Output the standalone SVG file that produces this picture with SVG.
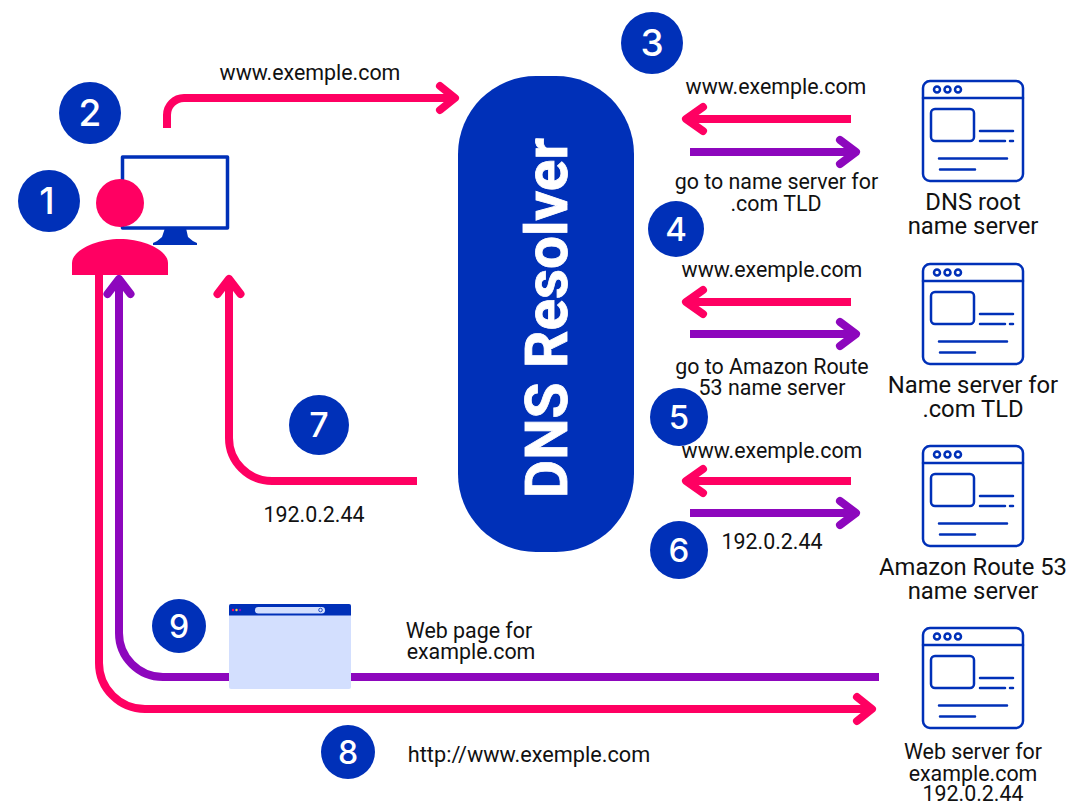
<svg xmlns="http://www.w3.org/2000/svg" xmlns:xlink="http://www.w3.org/1999/xlink" width="1071" height="803" viewBox="0 0 1071 803">
<style>
text{font-family:Roboto,"Liberation Sans",sans-serif;fill:#111;font-size:21.400px;text-anchor:middle}
.lbl2{font-size:23.800px}
.num{font-family:Inter,Roboto,sans-serif;fill:#fff;font-size:37px;font-weight:500}
.badge{fill:#0030b8}
.p{fill:none;stroke:#ff0062;stroke-width:8}
.v{fill:none;stroke:#8d07bd;stroke-width:8}
.h{stroke-linecap:round;stroke-linejoin:round}
.ic{fill:none;stroke:#0030b8;stroke-width:2.500;stroke-linecap:round;stroke-linejoin:round}
</style>
<defs>
<g id="server" class="ic">
<rect x="0" y="0" width="100" height="100" rx="7"/>
<path d="M0 17H100"/>
<circle cx="14" cy="8.500" r="3"/><circle cx="24.500" cy="8.500" r="3"/><circle cx="35" cy="8.500" r="3"/>
<rect x="8" y="28" width="43" height="32" rx="4"/>
<path d="M57 50H90M57 60H82M87 60H90M16 77.500H84M17 88.500H52"/>
</g>
<g id="left">
<path class="p" d="M168 0H5"/><path class="p h" d="M20 -12L3 0L20 12"/>
</g>
<g id="right">
<path class="v" d="M0 0H163"/><path class="v h" d="M150 -12L166 0L150 12"/>
</g>
</defs>
<g id="connectors">
<path class="p" d="M167 128V115A17 17 0 0 1 184 98H452"/><path class="p h" d="M440 86L455 98L440 110"/>
<use xlink:href="#left" x="683" y="119"/><use xlink:href="#right" x="690" y="152"/>
<use xlink:href="#left" x="683" y="302"/><use xlink:href="#right" x="690" y="334"/>
<use xlink:href="#left" x="683" y="481"/><use xlink:href="#right" x="690" y="513"/>
<path class="p" d="M417 481H272A43 43 0 0 1 229 438V282"/><path class="p h" d="M217.500 294L229 279L240.500 294"/>
<path class="v" d="M879 677H163A44 44 0 0 1 119 633V282"/><path class="v h" d="M107.500 294L119 279L130.500 294"/>
<path class="p" d="M99 272V663A46 46 0 0 0 145 709H870"/><path class="p h" d="M857 697L872 709L857 721"/>
</g>
<g id="resolver">
<rect x="458" y="76" width="176" height="476" rx="78" fill="#0030b8"/>
<text transform="translate(567 318) rotate(-90)" style="fill:#fff;stroke:#fff;stroke-width:0.800;font-size:58.500px;font-weight:700;font-family:Roboto,sans-serif">DNS Resolver</text>
</g>
<g id="user">
<path fill="#fff" stroke="#0030b8" stroke-width="3.500" stroke-linejoin="round" d="M122.500 157H227.500V228H122.500Z"/>
<path fill="#0030b8" d="M165 228H186L188 237Q192 241 197 243V245H153V243Q158 241 162 237Z"/>
<circle cx="120" cy="203" r="24" fill="#ff0062"/>
<path fill="#ff0062" d="M72 275V263C72 250 97 239 120 239S168 250 168 263V275Z"/>
</g>
<g id="browser">
<rect x="229" y="604" width="122" height="85" rx="2" fill="#d3dffe"/>
<path fill="#0030b8" d="M229 615.500V606Q229 604 231 604H349Q351 604 351 606V615.500Z"/>
<rect x="255" y="607" width="70" height="6.500" rx="3.250" fill="#d3dffe"/>
<circle cx="320.500" cy="610" r="1.800" fill="none" stroke="#0030b8" stroke-width="0.800"/>
<circle cx="233" cy="610" r="1.200" fill="#ff0062"/><circle cx="236.500" cy="610" r="1.200" fill="#ffd23c"/><circle cx="240" cy="610" r="1.200" fill="#8d07bd"/>
</g>
<g id="server-root"><use xlink:href="#server" x="923" y="81"/><text class="lbl2" x="973" y="210">DNS root</text><text class="lbl2" x="973" y="234">name server</text></g>
<g id="server-tld"><use xlink:href="#server" x="923" y="264"/><text class="lbl2" x="973" y="393">Name server for</text><text class="lbl2" x="973" y="417">.com TLD</text></g>
<g id="server-r53"><use xlink:href="#server" x="923" y="446"/><text class="lbl2" x="973" y="575">Amazon Route 53</text><text class="lbl2" x="973" y="599">name server</text></g>
<g id="server-web"><use xlink:href="#server" x="923" y="628"/><text x="973" y="759">Web server for</text><text x="973" y="781">example.com</text><text x="973" y="801">192.0.2.44</text></g>
<g id="labels">
<text x="310" y="80">www.exemple.com</text>
<text x="776" y="94">www.exemple.com</text>
<text x="776.500" y="189">go to name server for</text><text x="776" y="211">.com TLD</text>
<text x="772" y="277">www.exemple.com</text>
<text x="772" y="374">go to Amazon Route</text><text x="772" y="395">53 name server</text>
<text x="772" y="458">www.exemple.com</text>
<text x="772" y="549">192.0.2.44</text>
<text x="314" y="522">192.0.2.44</text>
<text x="469" y="638">Web page for</text><text x="471" y="659">example.com</text>
<text x="529" y="762" style="font-size:21.700px">http://www.exemple.com</text>
</g>
<g id="badge-1"><circle class="badge" cx="49" cy="201" r="31"/><text class="num" x="47" y="214">1</text></g>
<g id="badge-2"><circle class="badge" cx="90" cy="113" r="31"/><text class="num" x="90" y="126">2</text></g>
<g id="badge-3"><circle class="badge" cx="652" cy="43" r="31"/><text class="num" x="652" y="56">3</text></g>
<g id="badge-4"><circle class="badge" cx="676" cy="229" r="28"/><text class="num" x="676" y="241" style="font-size:33px">4</text></g>
<g id="badge-5"><circle class="badge" cx="679" cy="417" r="29"/><text class="num" x="679" y="429" style="font-size:33px">5</text></g>
<g id="badge-6"><circle class="badge" cx="679" cy="550" r="29"/><text class="num" x="679" y="562" style="font-size:33px">6</text></g>
<g id="badge-7"><circle class="badge" cx="319" cy="425" r="30"/><text class="num" x="319" y="437" style="font-size:34px">7</text></g>
<g id="badge-8"><circle class="badge" cx="348" cy="752" r="27"/><text class="num" x="348" y="764" style="font-size:32px">8</text></g>
<g id="badge-9"><circle class="badge" cx="179" cy="626" r="27"/><text class="num" x="179" y="638" style="font-size:32px">9</text></g>
</svg>
